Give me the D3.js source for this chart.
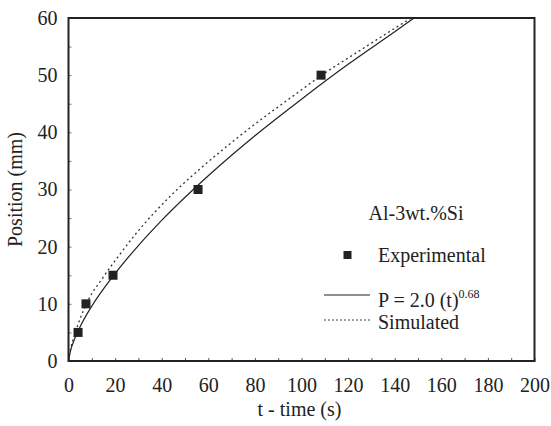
<!DOCTYPE html>
<html><head><meta charset="utf-8">
<script src="https://cdn.jsdelivr.net/npm/d3@7"></script>
<style>body{margin:0;background:#fff}svg{display:block}</style>
</head><body><div id="c"></div>
<script>
// Experimental points
const expT = [4.1, 7.5, 19.1, 55.6, 108.4];
const expP = [5.0, 10.0, 15.0, 30.0, 50.0];
// Fitted curve P = 2.0 (t)^0.68
const fitT = [0, 1, 2, 5, 10, 20, 30, 40, 60, 80, 100, 120, 140, 148];
const fitP = [0, 2.0, 3.2, 6.0, 9.6, 15.3, 20.2, 24.6, 32.4, 39.4, 45.8, 51.9, 57.6, 59.9];
// Simulated curve
const simT = [0, 0.5, 2.7, 8.4, 14.1, 21.2, 28.4, 45.6, 57.0, 74.2, 99.9, 108, 125, 147];
const simP = [0, 1.3, 4.6, 10.6, 14.2, 18.2, 22.0, 29.6, 33.8, 39.6, 47.4, 49.8, 54.3, 60];
const xTicks = [0, 20, 40, 60, 80, 100, 120, 140, 160, 180, 200];
const yTicks = [0, 10, 20, 30, 40, 50, 60];
const legendTitle = "Al-3wt.%Si";

const FONT = "'Liberation Serif', Tinos, 'Noto Serif', 'DejaVu Serif', 'Nimbus Roman', 'Nimbus Roman No9 L', FreeSerif, Times, serif";
const W = 551, H = 426;
const m = {l: 68.5, t: 18, r: 534.5, b: 361};
const svg = d3.select("#c").append("svg").attr("width", W).attr("height", H);
const x = d3.scaleLinear().domain([0, 200]).range([m.l, m.r]);
const y = d3.scaleLinear().domain([0, 60]).range([m.b, m.t]);

// minor inward ticks
const gx = svg.append("g").attr("transform", `translate(0,${m.b})`)
  .call(d3.axisTop(x).tickValues(d3.range(0, 201, 10)).tickSize(3).tickFormat(""));
gx.select(".domain").remove();
gx.selectAll("line").attr("stroke", "#555");
const gy = svg.append("g").attr("transform", `translate(${m.l},0)`)
  .call(d3.axisRight(y).tickValues(d3.range(0, 61, 5)).tickSize(3).tickFormat(""));
gy.select(".domain").remove();
gy.selectAll("line").attr("stroke", "#777");

// tick labels via axes
const lx = svg.append("g").attr("transform", `translate(0,${m.b})`)
  .call(d3.axisBottom(x).tickValues(xTicks).tickSize(0).tickPadding(17).tickFormat(d3.format("d")));
lx.select(".domain").remove();
lx.selectAll("text").attr("fill", "#222").style("font-family", FONT).style("font-size", "20px");
const ly = svg.append("g").attr("transform", `translate(${m.l},0)`)
  .call(d3.axisLeft(y).tickValues(yTicks).tickSize(0).tickPadding(11).tickFormat(d3.format("d")));
ly.select(".domain").remove();
ly.selectAll("text").attr("fill", "#222").style("font-family", FONT).style("font-size", "20px");

// frame
svg.append("rect").attr("x", m.l).attr("y", m.t).attr("width", m.r - m.l).attr("height", m.b - m.t)
  .attr("fill", "none").attr("stroke", "#222").attr("stroke-width", 2);

svg.append("clipPath").attr("id", "cp").append("rect")
  .attr("x", m.l).attr("y", m.t).attr("width", m.r - m.l).attr("height", m.b - m.t);

const line = d3.line().x(d => x(d[0])).y(d => y(d[1])).curve(d3.curveMonotoneX);
svg.append("path").datum(simT.map((t, i) => [t, simP[i]])).attr("d", line)
  .attr("fill", "none").attr("stroke", "#333").attr("stroke-width", 1.3).attr("stroke-dasharray", "2,3")
  .attr("clip-path", "url(#cp)");
svg.append("path").datum(fitT.map((t, i) => [t, fitP[i]])).attr("d", line)
  .attr("fill", "none").attr("stroke", "#222").attr("stroke-width", 1.2)
  .attr("clip-path", "url(#cp)");

const s = 9;
svg.selectAll("rect.pt").data(expT.map((t, i) => [t, expP[i]])).enter().append("rect")
  .attr("class", "pt").attr("x", d => x(d[0]) - s / 2).attr("y", d => y(d[1]) - s / 2)
  .attr("width", s).attr("height", s).attr("fill", "#222");

function txt(sel) { return sel.style("font-family", FONT).style("font-size", "20px").attr("fill", "#222"); }

// axis titles
txt(svg.append("text").attr("x", (m.l + m.r) / 2 - 2).attr("y", 416).attr("text-anchor", "middle")).text("t - time (s)");
txt(svg.append("text").attr("transform", `translate(22,${(m.t + m.b) / 2}) rotate(-90)`).attr("text-anchor", "middle")).text("Position (mm)");

// legend
txt(svg.append("text").attr("x", 416).attr("y", 220).attr("text-anchor", "middle")).text(legendTitle);
svg.append("rect").attr("x", 347.5 - 4).attr("y", 255 - 4).attr("width", 8).attr("height", 8).attr("fill", "#222");
txt(svg.append("text").attr("x", 378).attr("y", 262)).text("Experimental");
svg.append("line").attr("x1", 324).attr("x2", 370).attr("y1", 295).attr("y2", 295).attr("stroke", "#222").attr("stroke-width", 1.2);
const pt = txt(svg.append("text").attr("x", 378).attr("y", 307));
pt.append("tspan").text("P = 2.0 (t)");
pt.append("tspan").attr("dy", -9).style("font-size", "12px").text("0.68");
svg.append("line").attr("x1", 324).attr("x2", 370).attr("y1", 320).attr("y2", 320).attr("stroke", "#444").attr("stroke-width", 1).attr("stroke-dasharray", "2,2");
txt(svg.append("text").attr("x", 378).attr("y", 329)).text("Simulated");
</script></body></html>
